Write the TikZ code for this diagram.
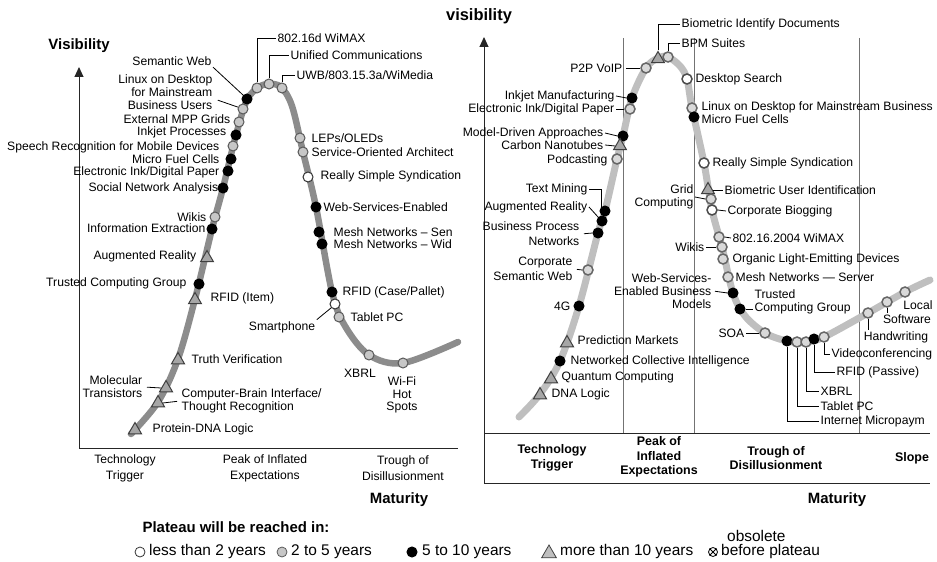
\documentclass[tikz,border=0pt]{standalone}
\usepackage{fontspec}
\setmainfont{Liberation Sans}
\usetikzlibrary{shapes.geometric,arrows.meta}
\begin{document}
\begin{tikzpicture}[x=1bp,y=-1bp,
  lbl/.style={font=\fontsize{12.2}{12.8}\selectfont, inner sep=1.5bp},
  lbr/.style={font=\fontsize{12.2}{14}\selectfont, inner sep=1.5bp},
  lph/.style={font=\fontsize{12.2}{16}\selectfont, align=center, inner sep=0},
  hd/.style={font=\fontsize{12.5}{14.5}\selectfont\bfseries, align=center, inner sep=0},
  ttl/.style={font=\fontsize{15}{17}\selectfont\bfseries, inner sep=0},
  lgd/.style={font=\fontsize{15.5}{17}\selectfont, inner sep=0},
  mk/.style={circle, inner sep=0, minimum size=10bp, line width=1bp},
  wm/.style={mk, fill=white, draw=black!80},
  gm/.style={mk, fill=black!22, draw=black!65},
  bm/.style={mk, fill=black, draw=black},
  tm/.style={regular polygon, regular polygon sides=3, inner sep=0, minimum size=15bp, fill=black!35, draw=black!75, line width=1bp},
  rw/.style={wm, line width=1.5bp, draw=black!70},
  rg/.style={gm, line width=1.5bp, draw=black!60, fill=black!15},
  con/.style={draw=black, line width=0.8bp},
  crv/.style={line width=6.5bp, line cap=round, line join=round},
  ax/.style={draw=black!85, line width=1bp},
  sep/.style={draw=black!55, line width=0.8bp},
  tip/.style={-{Triangle[length=10bp,width=9bp]}}
]
\useasboundingbox (0,0) rectangle (937,562);

% ---------------- left hype cycle ----------------
\draw[ax, tip] (79,448) -- (79,67);
\draw[ax] (79,448) -- (458,448);
\node[ttl] (visL) at (79,46) {Visibility};
\node[ttl] (matL) at (399,500) {Maturity};
\node[lph] (phL1) at (125,468) {Technology\\Trigger};
\node[lph] (phL2) at (265,468) {Peak of Inflated\\Expectations};
\node[lph] (phL3) at (403,468) {Trough of\\Disillusionment};

\draw[crv, black!45] plot[smooth, tension=0.55] coordinates {
  (131,434) (158,402) (178,359) (195,299) (212,229) (223,188) (236,135)
  (247,100) (259,87) (269,84) (281,87) (292,106) (303,152) (316,207)
  (332,292) (345,326) (369,355) (403,363) (458,342)};

\node[tm] (aPDL) at (135,430) {};
\node[tm] (aCBI) at (158,403) {};
\node[tm] (aMT) at (166,388) {};
\node[tm] (aTV) at (178,360) {};
\node[tm] (aRFI) at (195,300) {};
\node[bm] (aTCG) at (199,284) {};
\node[tm] (aAR) at (207,258) {};
\node[bm] (aIE) at (212,229) {};
\node[gm] (aWK) at (215,217) {};
\node[bm] (aSNA) at (223,188) {};
\node[bm] (aEI) at (228,171) {};
\node[bm] (aMFC) at (231,159) {};
\node[gm] (aSR) at (233,146) {};
\node[bm] (aIP) at (236,135) {};
\node[gm] (aMPP) at (239,122) {};
\node[gm] (aLD) at (243,109) {};
\node[bm] (aSW) at (247,99) {};
\node[gm] (aW16) at (257,88) {};
\node[gm] (aUC) at (269,84) {};
\node[gm] (aUWB) at (282,88) {};
\node[gm] (aLEP) at (300,138) {};
\node[gm] (aSOA) at (303,152) {};
\node[wm] (aRSS) at (308,177) {};
\node[bm] (aWSE) at (316,207) {};
\node[bm] (aMNS) at (319,232) {};
\node[bm] (aMNW) at (322,244) {};
\node[bm] (aRCP) at (332,292) {};
\node[wm] (aSP) at (335,304) {};
\node[gm] (aTPC) at (339,317) {};
\node[gm] (aXB) at (369,355) {};
\node[gm] (aWF) at (403,363) {};

\node[lbl,anchor=west] (tPDL) at (151,429) {Protein-DNA Logic};
\node[lbl,anchor=west,align=left] (tCBI) at (180,401) {Computer-Brain Interface/\\Thought Recognition};
\node[lbl,anchor=east,align=right] (tMT) at (144,387) {Molecular\\Transistors};
\node[lbl,anchor=west] (tTV) at (190,359) {Truth Verification};
\node[lbl,anchor=west] (tRFI) at (209,298) {RFID (Item)};
\node[lbl,anchor=east] (tTCG) at (188,283) {Trusted Computing Group};
\node[lbl,anchor=east] (tAR) at (198,256) {Augmented Reality};
\node[lbl,anchor=east] (tIE) at (207,228) {Information Extraction};
\node[lbl,anchor=east] (tWK) at (208,217) {Wikis};
\node[lbl,anchor=east] (tSNA) at (220,188) {Social Network Analysis};
\node[lbl,anchor=east,inner sep=0.5bp] (tEI) at (220,172) {Electronic Ink/Digital Paper};
\node[lbl,anchor=east,inner sep=0.5bp] (tMFC) at (220,159.5) {Micro Fuel Cells};
\node[lbl,anchor=east] (tSR) at (221,147) {Speech Recognition for Mobile Devices};
\node[lbl,anchor=east] (tIP) at (228,132) {Inkjet Processes};
\node[lbl,anchor=east] (tMPP) at (232,119) {External MPP Grids};
\node[lbl,anchor=east,align=right] (tLD) at (214,92) {Linux on Desktop\\for Mainstream\\Business Users};
\node[lbl,anchor=east] (tSW) at (213,61) {Semantic Web};
\node[lbl,anchor=west] (tW16) at (276,38) {802.16d WiMAX};
\node[lbl,anchor=west] (tUC) at (289,55) {Unified Communications};
\node[lbl,anchor=west] (tUWB) at (295,75) {UWB/803.15.3a/WiMedia};
\node[lbl,anchor=west] (tLEP) at (310,138) {LEPs/OLEDs};
\node[lbl,anchor=west] (tSOA) at (310,152) {Service-Oriented Architect};
\node[lbl,anchor=west] (tRSS) at (319,176) {Really Simple Syndication};
\node[lbl,anchor=west] (tWSE) at (322,207) {Web-Services-Enabled};
\node[lbl,anchor=west] (tMNS) at (332,232) {Mesh Networks -- Sen};
\node[lbl,anchor=west] (tMNW) at (332,244) {Mesh Networks -- Wid};
\node[lbl,anchor=west] (tRCP) at (341,292) {RFID (Case/Pallet)};
\node[lbl] (tSP) at (282,327) {Smartphone};
\node[lbl,anchor=west] (tTPC) at (349,317) {Tablet PC};
\node[lbl] (tXB) at (360,373) {XBRL};
\node[lbl,align=center] (tWF) at (402,395) {Wi-Fi\\Hot\\Spots};

\draw[con] (tSW.south east) -- (aSW.north west);
\draw[con, shorten <=4bp] (tLD.-8) -- (aLD.160);
\draw[con] (aW16.north) |- (tW16.west);
\draw[con] (aUC.north) |- (tUC.west);
\draw[con] (aUWB.north) |- (tUWB.west);
\draw[con, shorten <=3bp] (tMT.east) -- (aMT.west);
\draw[con, shorten >=3bp] (aCBI.east) -- (tCBI.west);
\draw[con] (tSP.north east) -- (aSP.south west);

% ---------------- right hype cycle ----------------
\draw[sep] (623,38) -- (623,433);
\draw[sep] (694,38) -- (694,433);
\draw[sep] (859,38) -- (859,433);
\draw[ax, tip] (484,483) -- (484,37);
\draw[ax] (484,433) -- (930,433);
\draw[ax] (484,483) -- (930,483);
\node[ttl, font=\fontsize{16.5}{18}\selectfont\bfseries] (visR) at (479,16) {visibility};
\node[ttl] (matR) at (837,500) {Maturity};
\node[hd] (phR1) at (552,458) {Technology\\Trigger};
\node[hd] (phR2) at (659,457) {Peak of\\Inflated\\Expectations};
\node[hd] (phR3) at (776,458) {Trough of\\Disillusionment};
\node[hd] (phR4) at (912,458) {Slope};

\draw[crv, black!25, line width=7bp] plot[smooth, tension=0.55] coordinates {
  (519,417) (540,394) (560,361) (579,306) (598,233) (605,211) (617,159)
  (623,136) (632,98) (646,68) (658,58) (668,57) (680,66) (687,79)
  (692,108) (704,163) (712,210) (722,247) (733,293) (745,316) (765,333)
  (787,341) (806,342) (824,337) (868,313) (905,292) (930,280)};

\node[tm] (bBID) at (658,59) {};
\node[rg] (bBPM) at (668,57) {};
\node[rg] (bP2P) at (646,68) {};
\node[rw] (bDS) at (687,79) {};
\node[bm] (bIM) at (632,98) {};
\node[rg] (bEI) at (630,109) {};
\node[rg] (bLD) at (692,108) {};
\node[bm] (bMFC) at (694,117) {};
\node[bm] (bMDA) at (623,136) {};
\node[tm] (bCN) at (620,146) {};
\node[rg] (bPC) at (617,159) {};
\node[rw] (bRSS) at (704,163) {};
\node[bm] (bTM) at (605,211) {};
\node[bm] (bAR) at (602,221) {};
\node[tm] (bBUI) at (708,190) {};
\node[rg] (bGC) at (711,199) {};
\node[rw] (bCBG) at (712,210) {};
\node[bm] (bBPN) at (598,233) {};
\node[rg] (bWX) at (719,237) {};
\node[rg] (bWK) at (722,247) {};
\node[rg] (bOL) at (723,259) {};
\node[rg] (bCSW) at (588,270) {};
\node[rg] (bMN) at (728,277) {};
\node[bm] (bWSB) at (733,293) {};
\node[bm] (b4G) at (579,306) {};
\node[bm] (bTCG) at (740,309) {};
\node[rg] (bSOA) at (765,333) {};
\node[tm] (bPM) at (567,343) {};
\node[bm] (bIMP) at (787,341) {};
\node[rg] (bTPC) at (797,342) {};
\node[rg] (bXB) at (806,342) {};
\node[bm] (bRFP) at (814,339) {};
\node[rg] (bVC) at (824,337) {};
\node[rg] (bHW) at (868,313) {};
\node[rg] (bSWr) at (887,302) {};
\node[rg] (bLOC) at (905,292) {};
\node[bm] (bNCI) at (560,361) {};
\node[tm] (bQC) at (551,379) {};
\node[tm] (bDNA) at (540,395) {};

\node[lbr,anchor=west] (uBID) at (680,24) {Biometric Identify Documents};
\node[lbr,anchor=west] (uBPM) at (680,43) {BPM Suites};
\node[lbr,anchor=east] (uP2P) at (624,68) {P2P VoIP};
\node[lbr,anchor=west] (uDS) at (694,79) {Desktop Search};
\node[lbr,anchor=east] (uIM) at (616,96) {Inkjet Manufacturing};
\node[lbr,anchor=east] (uEI) at (616,109) {Electronic Ink/Digital Paper};
\node[lbr,anchor=west] (uLD) at (700,107) {Linux on Desktop for Mainstream Business};
\node[lbr,anchor=west] (uMFC) at (700,119) {Micro Fuel Cells};
\node[lbr,anchor=east] (uMDA) at (605,133) {Model-Driven Approaches};
\node[lbr,anchor=east] (uCN) at (605,145) {Carbon Nanotubes};
\node[lbr,anchor=east] (uPC) at (609,160) {Podcasting};
\node[lbr,anchor=west] (uRSS) at (711,163) {Really Simple Syndication};
\node[lbr,anchor=east] (uTM) at (589,189) {Text Mining};
\node[lbr,anchor=east] (uAR) at (589,207) {Augmented Reality};
\node[lbr,anchor=west] (uBUI) at (723,190) {Biometric User Identification};
\node[lbl,anchor=east,align=right] (uGC) at (695,197) {Grid\\Computing};
\node[lbr,anchor=west] (uCBG) at (726,211) {Corporate Biogging};
\node[lbr,anchor=east,align=right,font=\fontsize{12.2}{15}\selectfont] (uBPN) at (581,234) {Business Process\\Networks};
\node[lbr,anchor=west] (uWX) at (731,238) {802.16.2004 WiMAX};
\node[lbr,anchor=east] (uWK) at (706,247) {Wikis};
\node[lbr,anchor=west] (uOL) at (731,259) {Organic Light-Emitting Devices};
\node[lbr,anchor=east,align=right,font=\fontsize{12.2}{15}\selectfont] (uCSW) at (574,269) {Corporate\\Semantic Web};
\node[lbr,anchor=west] (uMN) at (734,277) {Mesh Networks --- Server};
\node[lbr,anchor=east,align=right,font=\fontsize{12.2}{13}\selectfont] (uWSB) at (713,291) {Web-Services-\\Enabled Business\\Models};
\node[lbr,anchor=east] (u4G) at (572,306) {4G};
\node[lbr,anchor=west,align=left,font=\fontsize{12.2}{13}\selectfont] (uTCG) at (753,302) {Trusted\\Computing Group};
\node[lbr,anchor=east] (uSOA) at (746,333) {SOA};
\node[lbr,anchor=west] (uPM) at (576,340) {Prediction Markets};
\node[lbr,anchor=west] (uIMP) at (819,421) {Internet Micropaym};
\node[lbr,anchor=west] (uTPC) at (819,406) {Tablet PC};
\node[lbr,anchor=west] (uXB) at (819,391) {XBRL};
\node[lbr,anchor=west] (uRFP) at (835,372) {RFID (Passive)};
\node[lbr,anchor=west] (uVC) at (830,354) {Videoconferencing};
\node[lbr,anchor=north] (uHW) at (896,330) {Handwriting};
\node[lbr,anchor=north] (uSWr) at (907,313) {Software};
\node[lbr] (uLOC) at (918,305) {Local};
\node[lbr,anchor=west] (uNCI) at (569,361) {Networked Collective Intelligence};
\node[lbr,anchor=west] (uQC) at (560,377) {Quantum Computing};
\node[lbr,anchor=west] (uDNA) at (550,394) {DNA Logic};

\draw[con] (bBID.north) |- (uBID.west);
\draw[con] (bBPM.north) |- (uBPM.west);
\draw[con, shorten <=2bp] (uP2P.east) -- (bP2P.west);
\draw[con] (uIM.east) -- (bIM.west);
\draw[con] (uEI.east) -- (bEI.west);
\draw[con] (uMDA.east) -- (bMDA.west);
\draw[con] (uCN.east) -- (bCN.west);
\draw[con] (uTM.east) -| (bTM.north west);
\draw[con] (uAR.east) -- (bAR.north west);
\draw[con, shorten <=3bp] (uBPN.east) -- (bBPN.west);
\draw[con, shorten <=3bp] (uCSW.east) -- (bCSW.west);
\draw[con] (bBUI.east) -- (uBUI.west);
\draw[con] (uGC.east) -- (bGC.west);
\draw[con] (bCBG.east) -- (uCBG.west);
\draw[con] (bWX.east) -- (uWX.west);
\draw[con] (uWK.east) -- (bWK.west);
\draw[con, shorten <=2bp] (uWSB.east) -- (bWSB.west);
\draw[con] (bTCG.east) -- (bTCG.east -| uTCG.west);
\draw[con] (uSOA.east) -- (bSOA.west);
\draw[con] (bIMP.south) |- (uIMP.west);
\draw[con] (bTPC.south) |- (uTPC.west);
\draw[con] (bXB.south) |- (uXB.west);
\draw[con] (bRFP.south) |- (uRFP.west);
\draw[con] (bVC.south) |- (uVC.west);
\draw[con] (bHW.south) -- (bHW.south |- uHW.north);
\draw[con] (bSWr.south) -- (bSWr.south |- uSWr.north);

% ---------------- legend ----------------
\node[ttl] (lgTitle) at (236,527) {Plateau will be reached in:};
\node[wm, line width=0.8bp] (kW) at (140,552) {};
\node[lgd,anchor=west] (kWt) at (149,552) {less than 2 years};
\node[gm, line width=0.8bp] (kG) at (282,552) {};
\node[lgd,anchor=west] (kGt) at (291,552) {2 to 5 years};
\node[bm] (kB) at (412,552) {};
\node[lgd,anchor=west] (kBt) at (422,552) {5 to 10 years};
\node[tm, minimum size=17bp, fill=black!25, line width=0.8bp] (kT) at (549,553.5) {};
\node[lgd,anchor=west] (kTt) at (560,552) {more than 10 years};
\node[circle, draw=black, line width=0.8bp, inner sep=0, minimum size=9bp] (kX) at (713,552) {};
\draw[line width=0.8bp] (kX.north west) -- (kX.south east);
\draw[line width=0.8bp] (kX.north east) -- (kX.south west);
\node[lgd,anchor=west] (kXt) at (721,552) {before plateau};
\node[lgd,anchor=west] (kXo) at (727,536) {obsolete};
\end{tikzpicture}
\end{document}
